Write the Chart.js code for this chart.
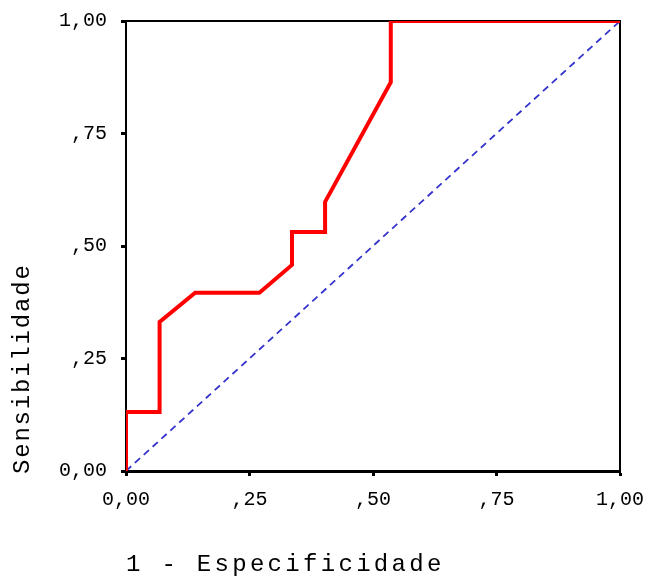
<!DOCTYPE html>
<html>
<head>
<meta charset="utf-8">
<script src="https://cdn.jsdelivr.net/npm/chart.js@4/dist/chart.umd.min.js"></script>
<style>
html,body{margin:0;padding:0;background:#fff;}
canvas{display:block;}
</style>
</head>
<body>
<canvas id="c" width="647" height="578"></canvas>
<script>
// ROC curve values (1 - Especificidade, Sensibilidade)
const rocX = [0, 0, 0.068, 0.068, 0.14, 0.27, 0.336, 0.336, 0.403, 0.403, 0.536, 0.536, 1];
const rocY = [0, 0.131, 0.131, 0.331, 0.396, 0.396, 0.458, 0.531, 0.531, 0.598, 0.864, 1, 1];
// reference diagonal
const refX = [0, 1];
const refY = [0, 1];
// tick labels
const tickValues = [0, 0.25, 0.5, 0.75, 1];
const tickLabels = ['0,00', ',25', ',50', ',75', '1,00'];
const xTitle = '1 - Especificidade';
const yTitle = 'Sensibilidade';

const rocData = rocX.map((x, i) => ({x: x, y: rocY[i]}));
const refData = refX.map((x, i) => ({x: x, y: refY[i]}));

function fmt(v) {
  const i = tickValues.findIndex(t => Math.abs(t - v) < 1e-9);
  return i >= 0 ? tickLabels[i] : '';
}

const framePlugin = {
  id: 'frame',
  beforeDatasetsDraw(chart) {
    const {ctx, chartArea: a} = chart;
    ctx.save();
    ctx.strokeStyle = '#000';
    ctx.lineWidth = 2;
    ctx.beginPath();
    ctx.moveTo(a.left, a.top);
    ctx.lineTo(a.right, a.top);
    ctx.lineTo(a.right, a.bottom);
    ctx.stroke();
    ctx.restore();
  },
  afterDraw(chart) {
    const {ctx, chartArea: a} = chart;
    ctx.save();
    ctx.fillStyle = '#000';
    ctx.font = '24px "Liberation Mono", monospace';
    ctx.textBaseline = 'middle';
    ctx.textAlign = 'left';
    ctx.letterSpacing = '3.3px';
    ctx.fillText(xTitle, a.left, 565);
    ctx.translate(23, a.bottom + 3);
    ctx.rotate(-Math.PI / 2);
    ctx.letterSpacing = '1.8px';
    ctx.fillText(yTitle, 0, 0);
    ctx.restore();
    ctx.letterSpacing = '0px';
  }
};

new Chart(document.getElementById('c'), {
  type: 'scatter',
  data: {
    datasets: [
      {
        data: refData,
        showLine: true,
        borderColor: '#3333cc',
        borderWidth: 1.8,
        borderDash: [7, 5],
        pointRadius: 0,
        order: 2
      },
      {
        data: rocData,
        showLine: true,
        borderColor: '#ff0000',
        borderWidth: 4,
        pointRadius: 0,
        order: 1
      }
    ]
  },
  options: {
    responsive: false,
    animation: false,
    events: [],
    layout: {padding: {left: 0, top: 21, right: 27, bottom: 0}},
    plugins: {legend: {display: false}, tooltip: {enabled: false}},
    scales: {
      x: {
        type: 'linear',
        min: 0, max: 1,
        afterFit(s) { s.height = 107; s.paddingLeft = 0; s.paddingRight = 0; },
        afterBuildTicks(s) { s.ticks = tickValues.map(v => ({value: v})); },
        ticks: {
          callback: v => fmt(v),
          color: '#000',
          font: {family: '"Liberation Mono", monospace', size: 20},
          padding: 12,
          maxRotation: 0,
          autoSkip: false
        },
        grid: {drawOnChartArea: false, drawTicks: true, tickLength: 5, tickWidth: 3, color: '#000'},
        border: {display: true, color: '#000', width: 3}
      },
      y: {
        type: 'linear',
        min: 0, max: 1,
        afterFit(s) { s.width = 126; s.paddingTop = 0; s.paddingBottom = 0; },
        afterBuildTicks(s) { s.ticks = tickValues.map(v => ({value: v})); },
        ticks: {
          callback: v => fmt(v),
          color: '#000',
          font: {family: '"Liberation Mono", monospace', size: 20},
          padding: 14,
          autoSkip: false
        },
        grid: {drawOnChartArea: false, drawTicks: true, tickLength: 5, tickWidth: 3, color: '#000'},
        border: {display: true, color: '#000', width: 2}
      }
    }
  },
  plugins: [framePlugin]
});
</script>
</body>
</html>
